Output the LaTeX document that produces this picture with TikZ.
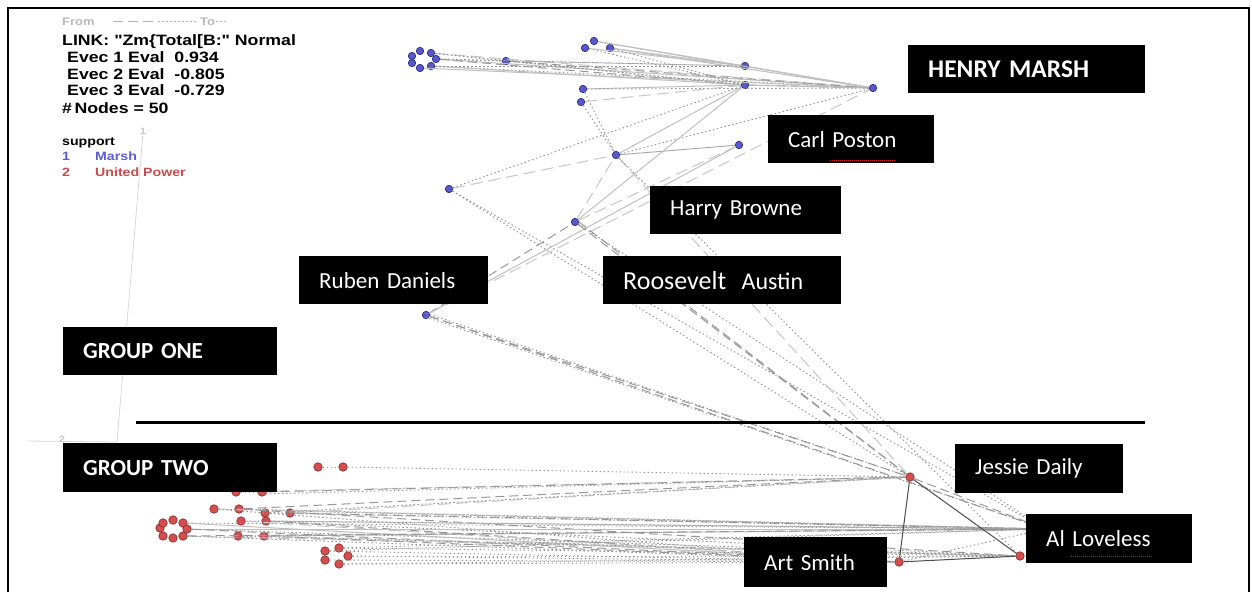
\documentclass[tikz,border=0pt]{standalone}
\usepackage{fontspec}
\setmainfont{Liberation Sans}
\newfontfamily\legendfont{Liberation Sans}[FakeStretch=1.18]
\newfontfamily\boxfont{Carlito}

\definecolor{marshblue}{RGB}{88,88,204}
\definecolor{marshline}{RGB}{40,40,120}
\definecolor{unred}{RGB}{212,78,78}
\definecolor{unline}{RGB}{140,40,40}
\definecolor{legblue}{RGB}{92,92,212}
\definecolor{legred}{RGB}{200,76,76}
\definecolor{spellred}{RGB}{200,30,30}

\begin{document}
\begin{tikzpicture}[x=1pt,y=-1pt,
  mnode/.style={circle, draw=marshline, fill=marshblue, line width=0.6pt, minimum size=7.5pt, inner sep=0pt},
  unode/.style={circle, draw=unline, fill=unred, line width=0.6pt, minimum size=8.5pt, inner sep=0pt},
  esolid/.style={draw=gray!50, line width=1pt},
  edash/.style={draw=gray!80, line width=1pt, dash pattern=on 9pt off 5pt},
  elong/.style={draw=gray!45, line width=1pt, dash pattern=on 12pt off 6pt},
  edot/.style={draw=gray!85, line width=0.9pt, dash pattern=on 1.5pt off 2.5pt},
  estrong/.style={draw=black!70, line width=1pt},
  lbl/.style={fill=black, text=white, font=\boxfont\fontsize{23}{27}\selectfont,
    inner xsep=20pt, inner ysep=0pt, minimum height=48pt, align=left, anchor=north west},
  legtext/.style={anchor=base west, inner sep=0pt, font=\legendfont\bfseries\fontsize{15}{18}\selectfont},
  legsmall/.style={anchor=base west, inner sep=0pt, font=\legendfont\bfseries\fontsize{12}{14}\selectfont},
  axisline/.style={draw=gray!30, line width=0.8pt},
  axislabel/.style={text=gray!45, font=\legendfont\bfseries\fontsize{9}{10}\selectfont, inner sep=0pt}
]
\useasboundingbox (0,0) rectangle (1252,592);
\fill[white] (0,0) rectangle (1252,592);

% ---------- axes ----------
\draw[axisline] (143,132) -- (117,442) -- (27,441);
\node[axislabel, anchor=west] (ax1) at (140,131) {1};
\node[axislabel] (ax2) at (62,439) {2};

% ---------- legend ----------
\node[anchor=base west, inner sep=0pt, text=gray!55, font=\legendfont\bfseries\fontsize{11}{13}\selectfont] (from) at (62,25) {From};
\draw[gray!60, line width=0.8pt, dash pattern=on 10pt off 5pt] (113,21) -- (156,21);
\draw[gray!60, line width=0.8pt, dash pattern=on 1.5pt off 2.5pt] (158,21) -- (198,21);
\node[anchor=base west, inner sep=0pt, text=gray!55, font=\legendfont\bfseries\fontsize{11}{13}\selectfont] (to) at (200,25) {To};
\draw[gray!60, line width=0.8pt, dash pattern=on 1.5pt off 2.5pt] (216,21) -- (228,21);

\node[legtext] (link) at (62,45) {LINK: "Zm\{Total[B:" Normal};
\node[legtext] (ev1) at (67,62.3) {Evec 1 Eval\ \ 0.934};
\node[legtext] (ev2) at (67,79) {Evec 2 Eval\ \ -0.805};
\node[legtext] (ev3) at (67,95.5) {Evec 3 Eval\ \ -0.729};
\node[legtext] (nn) at (62,113) {\#\,Nodes = 50};
\node[legsmall] (sup) at (62,145.7) {support};
\node[legsmall, text=legblue] (s1) at (62,160.7) {1};
\node[legsmall, text=legblue] (s1n) at (95,160.7) {Marsh};
\node[legsmall, text=legred] (s2) at (62,176) {2};
\node[legsmall, text=legred] (s2n) at (95,176) {United Power};

% ---------- Marsh supporters ----------
\node[mnode] (m1) at (420,51) {};
\node[mnode] (m2) at (431,53) {};
\node[mnode] (m3) at (436,59) {};
\node[mnode] (m4) at (431,66) {};
\node[mnode] (m5) at (420,68) {};
\node[mnode] (m6) at (412,63) {};
\node[mnode] (m7) at (412,56) {};
\node[mnode] (mA) at (506,61) {};
\node[mnode] (mB1) at (594,41) {};
\node[mnode] (mB2) at (585,48) {};
\node[mnode] (mB3) at (610,48) {};
\node[mnode] (mC) at (745,66) {};
\node[mnode] (mD) at (745,85) {};
\node[mnode] (mM) at (873,88) {};
\node[mnode] (mE) at (583,89) {};
\node[mnode] (mF) at (581,102) {};
\node[mnode] (mG) at (616,155) {};
\node[mnode] (mP) at (739,145) {};
\node[mnode] (mH) at (449,189) {};
\node[mnode] (mR) at (575,222) {};
\node[mnode] (mQ) at (426,315) {};

% ---------- United Power supporters ----------
\node[unode] (uJ) at (910,477) {};
\node[unode] (uS) at (899,562) {};
\node[unode] (uL) at (1020,556) {};
\coordinate (uX) at (1045,529);
\node[unode] (u1) at (318,467) {};
\node[unode] (u2) at (343,467) {};
\node[unode] (u3) at (236,492) {};
\node[unode] (u4) at (262,492) {};
\node[unode] (u5) at (214,509) {};
\node[unode] (u6) at (239,509) {};
\node[unode] (u7) at (265,513) {};
\node[unode] (u8) at (290,513) {};
\node[unode] (u9) at (241,521) {};
\node[unode] (u10) at (266,521) {};
\node[unode] (k1) at (173,520) {};
\node[unode] (k2) at (183,523) {};
\node[unode] (k3) at (187,529) {};
\node[unode] (k4) at (183,536) {};
\node[unode] (k5) at (173,538) {};
\node[unode] (k6) at (163,536) {};
\node[unode] (k7) at (160,528) {};
\node[unode] (k8) at (163,523) {};
\node[unode] (u11) at (238,536) {};
\node[unode] (u12) at (264,536) {};
\node[unode] (c1) at (325,551) {};
\node[unode] (c2) at (339,548) {};
\node[unode] (c3) at (348,556) {};
\node[unode] (c4) at (325,560) {};
\node[unode] (c5) at (339,564) {};

% ---------- ties among Marsh supporters ----------
\draw[edot] (m2) -- (mA);
\draw[edot] (m3) -- (mA);
\draw[esolid] (m3) -- (mM);
\draw[elong] (m2) -- (mM);
\draw[edot] (m4) -- (mM);
\draw[edot] (m2) -- (mD);
\draw[edash] (m3) -- (mD);
\draw[esolid] (m4) -- (mD);
\draw[esolid] (m5) -- (mM);
\draw[edot] (m3) -- (mC);
\draw[edot] (m4) -- (mC);
\draw[edash] (mA) -- (mM);
\draw[edot] (mA) -- (mD);
\draw[edot] (mA) -- (mC);
\draw[esolid] (mB1) -- (mM);
\draw[esolid] (mB1) -- (mC);
\draw[esolid] (mB2) -- (mC);
\draw[esolid] (mB3) -- (mC);
\draw[esolid] (mB3) -- (mM);
\draw[edot] (mB2) -- (mD);
\draw[edot] (mB3) -- (mD);
\draw[esolid] (mC) -- (mM);
\draw[edash] (mD) -- (mM);
\draw[esolid] (mD) -- (mM);
\draw[esolid] (mE) -- (mD);
\draw[edot] (mE) -- (mM);
\draw[elong] (mF) -- (mD);
\draw[edot] (mF) -- (mG);
\draw[edot] (mE) -- (mG);
\draw[draw=gray!70, line width=0.9pt] (mG) -- (mP);
\draw[esolid] (mG) -- (mD);
\draw[edot] (mG) -- (mM);
\draw[elong] (mH) -- (mG);
\draw[edot] (mH) -- (mD);
\draw[esolid] (mR) -- (mD);
\draw[elong] (mR) -- (mP);
\draw[elong] (mR) -- (mG);
\draw[edash] (mQ) -- (mR);
\draw[esolid] (mQ) -- (mP);
\draw[elong] (mQ) -- (mM);

% ---------- ties across the two groups ----------
\draw[edot] (mH) -- (uJ);
\draw[edot] (mH) -- (uX);
\draw[edash] (mR) -- (uJ);
\draw[edash] ([xshift=4pt]mR.center) -- (uJ);
\draw[edot] (mR) -- (uX);
\draw[edash] (mQ) -- (uJ);
\draw[edot] ([yshift=2pt]mQ.center) -- (uJ);
\draw[edash] (mQ) -- (uX);
\draw[edot] ([yshift=-2pt]mQ.center) -- (uX);
\draw[elong] (mG) -- (uJ);
\draw[edot] (mG) -- (uL);

% ---------- ties among United Power supporters ----------
\draw[edot] (u1) -- (u2);
\draw[edot] (u2) -- (uJ);
\draw[edot] (u3) -- (u4);
\draw[elong] (u3) -- (uJ);
\draw[edash] (u4) -- (uJ);
\draw[edot] ([yshift=-2pt]u4.center) -- (uJ);
\draw[edot] (u5) -- (u6);
\draw[edot] (u6) -- (uX);
\draw[edash] (u6) -- (uJ);
\draw[elong] (u5) -- (uX);
\draw[edot] (u5) -- (uS);
\draw[edash] (u6) -- (uL);
\draw[edot] (u7) -- (u8);
\draw[edash] (u8) -- (uX);
\draw[edot] ([yshift=2pt]u8.center) -- (uX);
\draw[elong] (u8) -- (uJ);
\draw[edot] (u7) -- (uX);
\draw[edot] (u7) -- (uJ);
\draw[edot] (u9) -- (u10);
\draw[edash] (u10) -- (uS);
\draw[esolid] (u10) -- (uX);
\draw[edot] (u10) -- (uL);
\draw[edot] (u9) -- (uX);
\draw[elong] (u9) -- (uS);
\draw[esolid] (k3) -- (uX);
\draw[edash] (k3) -- (uS);
\draw[edot] (k3) -- (uL);
\draw[edot] (k2) -- (uX);
\draw[esolid] (k2) -- (uS);
\draw[elong] (k4) -- (uL);
\draw[edot] (k4) -- (uS);
\draw[edash] (k4) -- (uX);
\draw[edot] (u11) -- (u12);
\draw[edash] (u12) -- (uS);
\draw[elong] (u12) -- (uL);
\draw[edot] (u12) -- (uX);
\draw[edot] (u11) -- (uL);
\draw[edot] (u11) -- (uX);
\draw[edot] (c3) -- (uS);
\draw[edot] (c5) -- (uS);
\draw[edot] (c1) -- (uS);
\draw[edot] (c4) -- (uS);
\draw[edot] (c2) -- (uL);
\draw[edot] (c3) -- (uL);
\draw[edot] (c5) -- (uL);
\draw[edot] (c2) -- (uX);
\draw[edot] (c1) -- (uX);
\draw[estrong] (uJ) -- (uS);
\draw[estrong] (uJ) -- (uL);
\draw[estrong] (uS) -- (uL);
\draw[edot] (uS) -- (uX);
\draw[edash] (uJ) -- (uX);

% ---------- group divider ----------
\draw[line width=3pt] (136,422) -- (1145,422);

% ---------- name plates ----------
\node[lbl, text width=197pt, font=\boxfont\bfseries\fontsize{25.5}{29}\selectfont] (henry) at (908,45) {HENRY MARSH};
\node[lbl, text width=126pt] (carl) at (768,115) {Carl Poston};
\node[lbl, text width=151pt] (harry) at (650,186) {Harry Browne};
\node[lbl, text width=149pt] (ruben) at (299,256) {Ruben Daniels};
\node[lbl, text width=198pt] (roosevelt) at (603,256) {{\fontsize{26}{30}\selectfont Roosevelt}\ \ {\fontsize{24}{28}\selectfont Austin}};
\node[lbl, text width=174pt, font=\boxfont\bfseries\fontsize{23}{27}\selectfont] (g1) at (63,327) {GROUP ONE};
\node[lbl, text width=174pt, minimum height=49pt, font=\boxfont\bfseries\fontsize{23}{27}\selectfont] (g2) at (63,443) {GROUP TWO};
\node[lbl, text width=128pt, minimum height=49pt] (jessie) at (955,444) {Jessie Daily};
\node[lbl, text width=126pt, minimum height=49pt] (al) at (1026,514) {Al Loveless};
\node[lbl, text width=103pt, minimum height=50pt] (art) at (744,537) {Art Smith};

% spell-check marks under two surnames
\draw[spellred, line width=0.9pt, dash pattern=on 1pt off 1pt] (830,160) -- (895,160);
\draw[spellred, line width=0.9pt, dash pattern=on 1pt off 1pt] (1071,556) -- (1152,556);

% ---------- frame ----------
\draw[line width=2.5pt] (8,592) -- (8,8) -- (1249,8) -- (1249,592);
\end{tikzpicture}
\end{document}
